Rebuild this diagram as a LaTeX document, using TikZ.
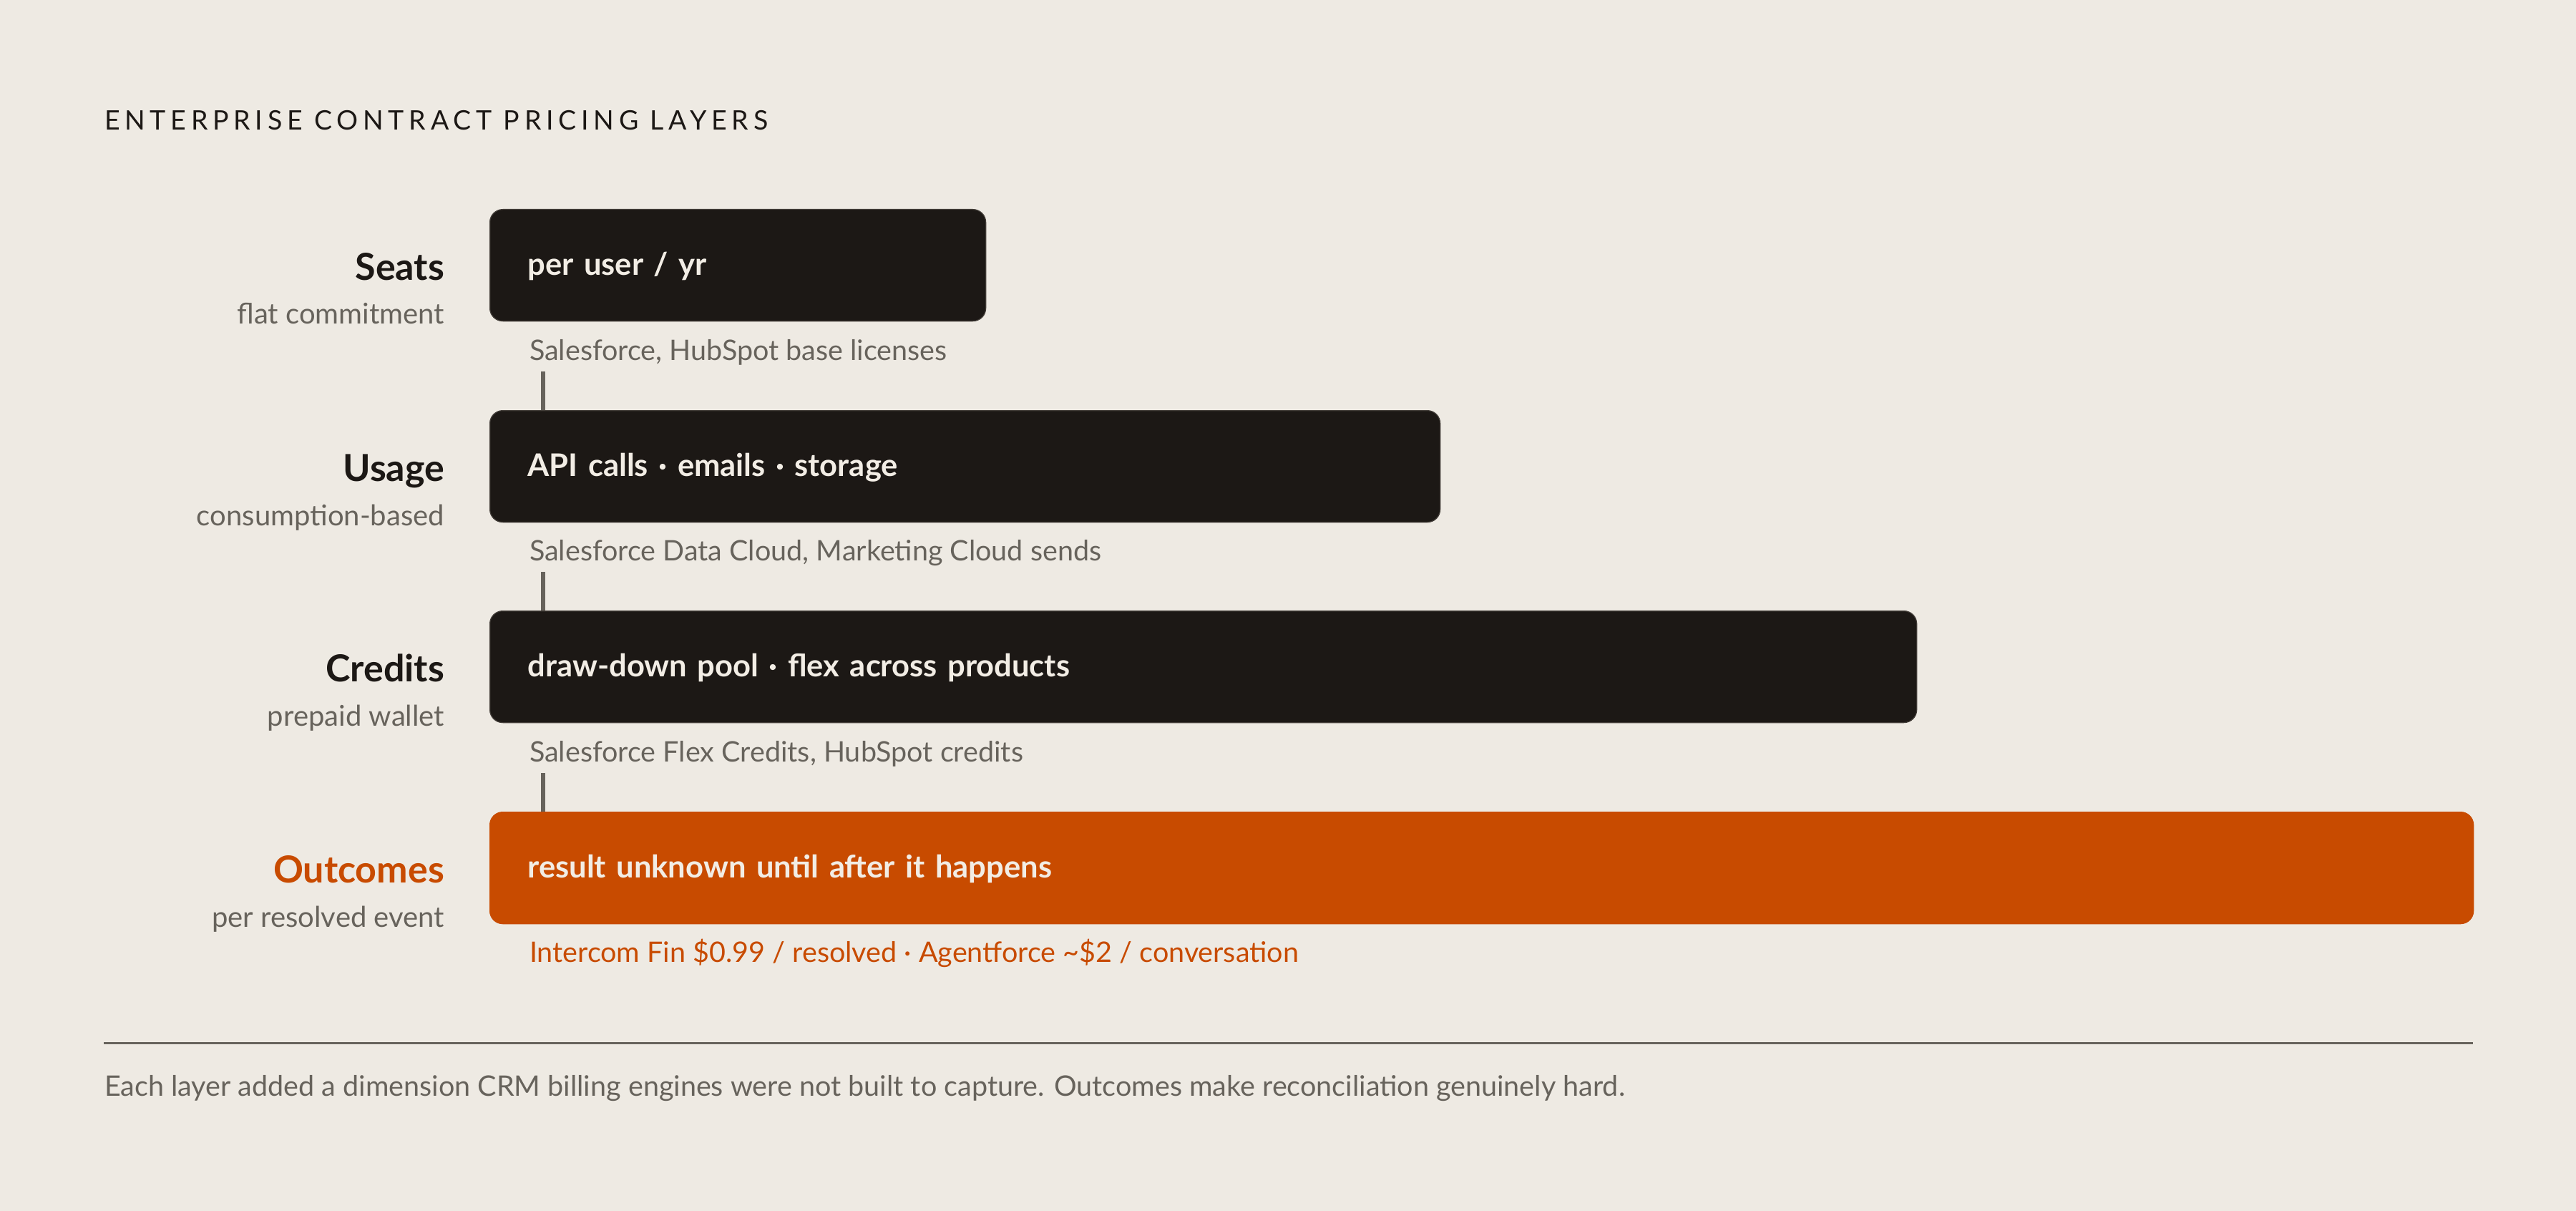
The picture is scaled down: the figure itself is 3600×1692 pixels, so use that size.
\documentclass[tikz,border=0pt]{standalone}
\usepackage{fontspec}
\setmainfont{Lato}
\definecolor{paper}{HTML}{EEEAE3}
\definecolor{ink}{HTML}{1C1815}
\definecolor{rust}{HTML}{C84B00}
\definecolor{stone}{HTML}{67635C}
\definecolor{chalk}{HTML}{F2EDE5}
\begin{document}
\begin{tikzpicture}[x=0.2pt,y=-0.2pt,
		heading/.style={anchor=base west,inner sep=0pt,text=ink,font=\fontsize{7.5}{9}\selectfont\addfontfeatures{LetterSpace=18}},
		layerbox/.style={anchor=north west,draw=stone!50!ink,line width=0.25pt,fill=ink,rounded corners=3.6pt,minimum height=31.2pt,inner xsep=10.6pt,inner ysep=0pt,text width=#1,align=left,text=chalk,text height=0.55em,text depth=0pt,font=\fontsize{8.7}{10}\selectfont\bfseries},
		tiername/.style={anchor=base east,inner sep=0pt,text=ink,font=\fontsize{10.4}{12}\selectfont\bfseries},
		tiersub/.style={anchor=base east,inner sep=0pt,text=stone,font=\fontsize{8.0}{10}\selectfont},
		vendors/.style={anchor=base west,inner sep=0pt,text=stone,font=\fontsize{7.9}{9}\selectfont},
		link/.style={draw=stone,line width=1.2pt},
		divider/.style={draw=stone,line width=0.6pt}]
	\fill[paper] (0,0) rectangle (3600,1692);
	\node[heading] (title) at (145,182) {ENTERPRISE CONTRACT PRICING LAYERS};

	\node[layerbox=117.4pt] (seats) at (684,292) {per user / yr};
	\node[layerbox=244.4pt] (usage) at (684,573) {API calls · emails · storage};
	\node[layerbox=377.6pt] (credits) at (684,853) {draw-down pool · flex across products};
	\node[layerbox=533.2pt,fill=rust,draw=rust] (outcomes) at (684,1134) {result unknown until after it happens};

	\node[tiername] (seats-name) at (622,391) {Seats};
	\node[tiersub] (seats-sub) at (622,453) {flat commitment};
	\node[tiername] (usage-name) at (622,672) {Usage};
	\node[tiersub] (usage-sub) at (622,734) {consumption-based};
	\node[tiername] (credits-name) at (622,952) {Credits};
	\node[tiersub] (credits-sub) at (622,1014) {prepaid wallet};
	\node[tiername,text=rust] (outcomes-name) at (622,1233) {Outcomes};
	\node[tiersub] (outcomes-sub) at (622,1295) {per resolved event};

	\node[vendors] (seats-ex) at (739,503) {Salesforce, HubSpot base licenses};
	\node[vendors] (usage-ex) at (739,783) {Salesforce Data Cloud, Marketing Cloud sends};
	\node[vendors] (credits-ex) at (739,1064) {Salesforce Flex Credits, HubSpot credits};
	\node[vendors,text=rust] (outcomes-ex) at (739,1344) {Intercom Fin \$0.99 / resolved · Agentforce \textasciitilde\$2 / conversation};

	\coordinate (s1) at (759,519);
	\coordinate (s2) at (759,799);
	\coordinate (s3) at (759,1080);
	\draw[link] (s1) -- (s1 |- usage.north);
	\draw[link] (s2) -- (s2 |- credits.north);
	\draw[link] (s3) -- (s3 |- outcomes.north);

	\coordinate (rule-l) at (145,1457);
	\coordinate (rule-r) at (3456,1457);
	\draw[divider] (rule-l) -- (rule-r);
	\node[vendors] (footer) at (145,1531) {Each layer added a dimension CRM billing engines were not built to capture. Outcomes make reconciliation genuinely hard.};
\end{tikzpicture}
\end{document}
